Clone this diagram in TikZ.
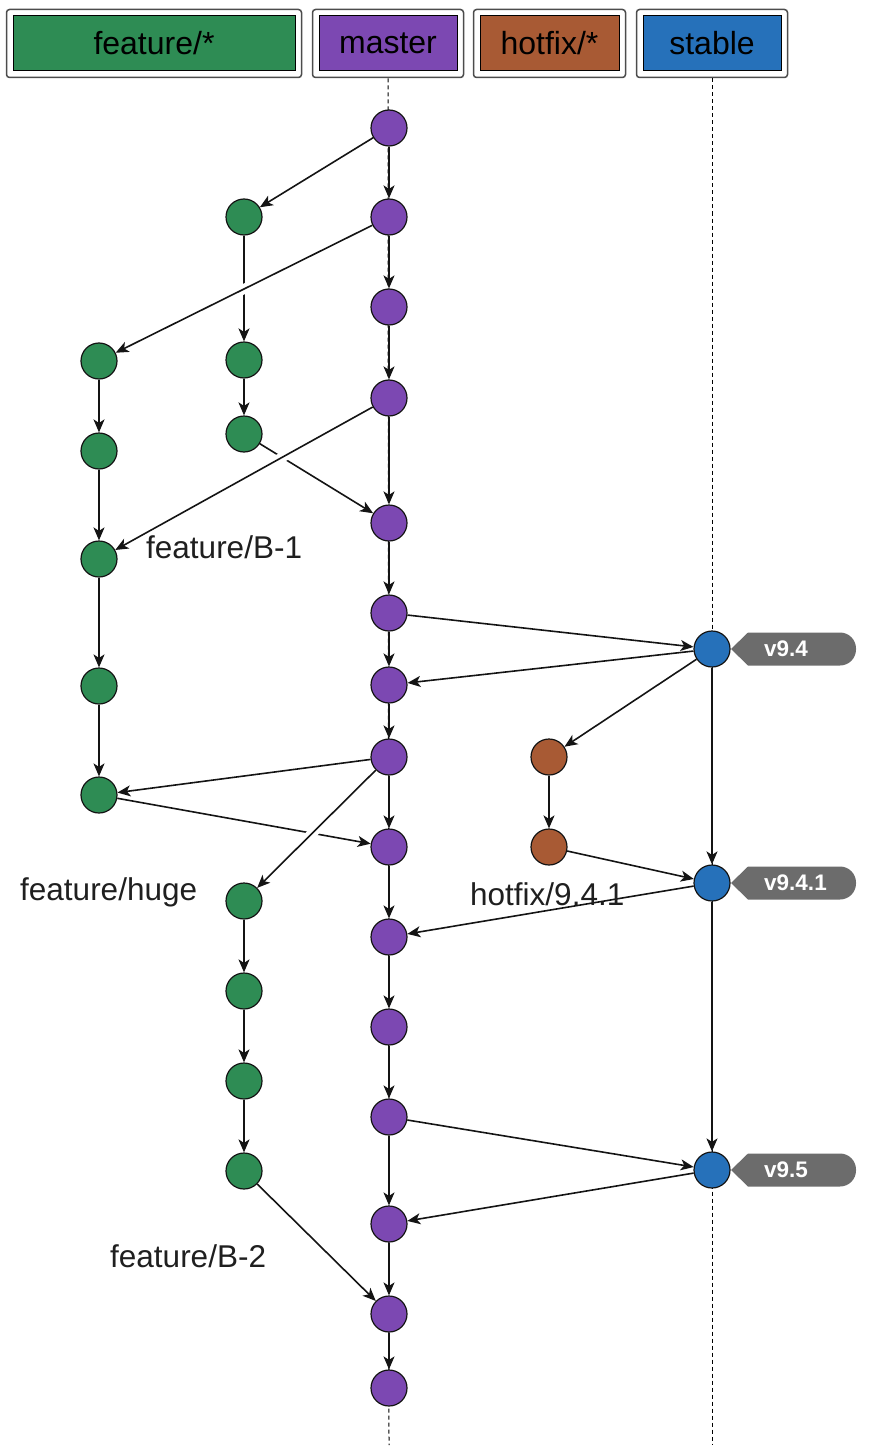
\documentclass[tikz,border=0pt]{standalone}
\usepackage{fontspec}
\setmainfont{Liberation Sans}
\usetikzlibrary{arrows.meta,calc}
\pgfdeclarelayer{background}
\pgfsetlayers{background,main}

\definecolor{featc}{RGB}{46,140,84}
\definecolor{mastc}{RGB}{124,72,178}
\definecolor{hotc}{RGB}{168,90,52}
\definecolor{stabc}{RGB}{38,113,186}
\definecolor{tagc}{RGB}{108,108,108}
\definecolor{inkc}{RGB}{20,20,20}

% release tag: arrow-shaped grey label to the right of a commit
\newcommand\gittag[3]{%
  \node[tagtext] (#1) at ($(#2)+(52pt,0pt)$) {#3};
  \begin{pgfonlayer}{background}
    \fill[tagc] ($(#2)+(19pt,0pt)$) -- ($(#2)+(36pt,16.5pt)$)
      [rounded corners=16pt] -- ($(#2)+(144pt,16.5pt)$) -- ($(#2)+(144pt,-16.5pt)$)
      [sharp corners] -- ($(#2)+(36pt,-16.5pt)$) -- cycle;
  \end{pgfonlayer}}

\begin{document}
\begin{tikzpicture}[x=1pt,y=-1pt,
  commit/.style={circle,draw=inkc,line width=1.2pt,minimum size=36pt,inner sep=0pt},
  feat/.style={commit,fill=featc},
  mast/.style={commit,fill=mastc},
  hot/.style={commit,fill=hotc},
  stab/.style={commit,fill=stabc},
  hdr/.style={draw=black,line width=1pt,minimum height=55pt,inner sep=0pt,
    font=\fontsize{32}{38}\selectfont},
  frame/.style={draw=black!70,line width=1.5pt,rounded corners=3pt,fill=white},
  lane/.style={draw=black,line width=1pt,dash pattern=on 4pt off 3pt},
  flow/.style={draw=inkc,line width=1.6pt,-{Stealth[length=13pt,width=11pt,inset=3.5pt]}},
  bridge/.style={preaction={draw=white,line width=10pt,shorten <=14pt,shorten >=14pt,arrows=-}},
  lbl/.style={anchor=base west,inner sep=0pt,font=\fontsize{31.5}{36}\selectfont,text=black!88},
  tagtext/.style={anchor=west,inner sep=0pt,text=white,font=\bfseries\fontsize{22.5}{26}\selectfont}]
\useasboundingbox (0,0) rectangle (868,1450);

% branch headers
\node[hdr,fill=featc,minimum width=282pt] (hfeat) at (154,43.5) {feature/*};
\node[hdr,fill=mastc,minimum width=138pt] (hmast) at (388,43.5) {master};
\node[hdr,fill=hotc,minimum width=139pt] (hhot) at (549.5,43.5) {hotfix/*};
\node[hdr,fill=stabc,minimum width=138pt] (hstab) at (712,43.5) {stable};

% commits on master
\foreach \n/\y in {1/128,2/217,3/307,4/398,5/523,6/613,7/685,8/757,9/847,10/937,
                   11/1027,12/1117,13/1224,14/1314,15/1388}
  \node[mast] (m\n) at (389,\y) {};
% feature branches
\node[feat] (a1) at (244,217) {};
\node[feat] (a2) at (244,360) {};
\node[feat] (a3) at (244,434) {};
\node[feat] (b1) at (99,361) {};
\node[feat] (b2) at (99,451) {};
\node[feat] (b3) at (99,559) {};
\node[feat] (b4) at (99,686) {};
\node[feat] (b5) at (99,795) {};
\node[feat] (c1) at (244,901) {};
\node[feat] (c2) at (244,991) {};
\node[feat] (c3) at (244,1081) {};
\node[feat] (c4) at (244,1171) {};
% hotfix
\node[hot] (h1) at (549,757) {};
\node[hot] (h2) at (549,847) {};
% stable
\node[stab] (s1) at (712,649) {};
\node[stab] (s2) at (712,883) {};
\node[stab] (s3) at (712,1170) {};

% branch labels
\node[lbl] (lb1) at (146,558) {feature/B-1};
\node[lbl] (lhuge) at (20,900) {feature/huge};
\node[lbl] (lhot) at (470,905) {hotfix/9.4.1};
\node[lbl] (lb2) at (110,1267) {feature/B-2};

% release tags
\gittag{t1}{s1}{v9.4}
\gittag{t2}{s2}{v9.4.1}
\gittag{t3}{s3}{v9.5}

\coordinate (mend) at (389,1445);
\coordinate (send) at (712,1445);

\begin{pgfonlayer}{background}
  % header frames
  \foreach \h in {hfeat,hmast,hhot,hstab}
    \draw[frame] ($(\h.south west)+(-6pt,-6pt)$) rectangle ($(\h.north east)+(6pt,6pt)$);
  % lanes
  \draw[lane] ($(hmast.south)+(0pt,-7pt)$) -- (mend);
  \draw[lane] ($(hstab.south)+(0pt,-7pt)$) -- (send);

  % master line
  \foreach \i/\j in {1/2,2/3,3/4,4/5,5/6,6/7,7/8,8/9,9/10,10/11,11/12,12/13,13/14,14/15}
    \draw[flow] (m\i) -- (m\j);
  % feature branches
  \draw[flow] (m1) -- (a1);
  \draw[flow] (a1) -- (a2);
  \draw[flow] (a2) -- (a3);
  \draw[flow] (a3) -- (m5);
  \draw[flow] (b1) -- (b2);
  \draw[flow] (b2) -- (b3);
  \draw[flow] (b3) -- (b4);
  \draw[flow] (b4) -- (b5);
  \draw[flow] (m8) -- (b5);
  \draw[flow] (b5) -- (m9);
  \draw[flow] (c1) -- (c2);
  \draw[flow] (c2) -- (c3);
  \draw[flow] (c3) -- (c4);
  \draw[flow] (c4) -- (m14);
  % releases and hotfix
  \draw[flow] (m6) -- (s1);
  \draw[flow] (s1) -- (m7);
  \draw[flow] (s1) -- (h1);
  \draw[flow] (h1) -- (h2);
  \draw[flow] (h2) -- (s2);
  \draw[flow] (s1) -- (s2);
  \draw[flow] (s2) -- (m10);
  \draw[flow] (s2) -- (s3);
  \draw[flow] (m12) -- (s3);
  \draw[flow] (s3) -- (m13);
  % crossing branch-offs, drawn over the lines they cross
  \draw[flow,bridge] (m2) -- (b1);
  \draw[flow,bridge] (m4) -- (b3);
  \draw[flow,bridge] (m8) -- (c1);
\end{pgfonlayer}
\end{tikzpicture}
\end{document}
